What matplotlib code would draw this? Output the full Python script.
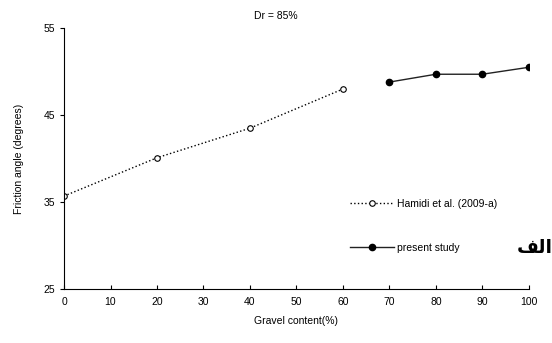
import matplotlib
matplotlib.use('Agg')
from matplotlib import pyplot as plt

# Data
hamidi_x = [0, 20, 40, 60]
hamidi_y = [35.7, 40.1, 43.5, 48.0]
present_x = [70, 80, 90, 100]
present_y = [48.8, 49.7, 49.7, 50.5]
x_ticks = [0, 10, 20, 30, 40, 50, 60, 70, 80, 90, 100]
y_ticks = [25, 35, 45, 55]

plt.rcParams['font.family'] = ['Liberation Sans', 'DejaVu Sans']

fig = plt.figure(figsize=(5.52, 3.43), dpi=100)
ax = fig.add_axes([0.116, 0.157, 0.842, 0.761])

ax.plot(hamidi_x, hamidi_y, c='black', ls=':', lw=1, marker='o', ms=4,
        mfc='white', mec='black', mew=0.8, label='Hamidi et al. (2009-a)')
ax.plot(present_x, present_y, c='#222222', lw=1, marker='o', ms=4.5,
        mfc='black', mec='black', label='present study')

# Format plot.
ax.set_xlim(0, 100)
ax.set_ylim(25, 55)
ax.set_xticks(x_ticks)
ax.set_yticks(y_ticks)
ax.spines['top'].set_visible(False)
ax.spines['right'].set_visible(False)
ax.tick_params(axis='x', direction='in', length=3, labelsize=7.5, pad=6)
ax.tick_params(axis='y', direction='out', length=3, labelsize=7.5)
ax.set_xlabel('Gravel content(%)', fontsize=7.5, labelpad=6)
ax.set_ylabel('Friction angle (degrees)', fontsize=7.5, labelpad=14)
fig.suptitle('Dr = 85%', fontsize=7.5, x=0.5, y=0.968)

ax.legend(loc='upper left', bbox_to_anchor=(0.606, 0.362), frameon=False,
          fontsize=7.5, labelspacing=3.27, handlelength=4.2, handletextpad=0.35,
          borderaxespad=0)

# Arabic label (presentation forms, visual order)
fig.text(0.937, 0.278, '\uFED2\uFEDF\uFE8D', fontsize=13.5, fontweight='bold',
         family=['DejaVu Sans'], va='center')

fig.savefig('out.png', dpi=100)
